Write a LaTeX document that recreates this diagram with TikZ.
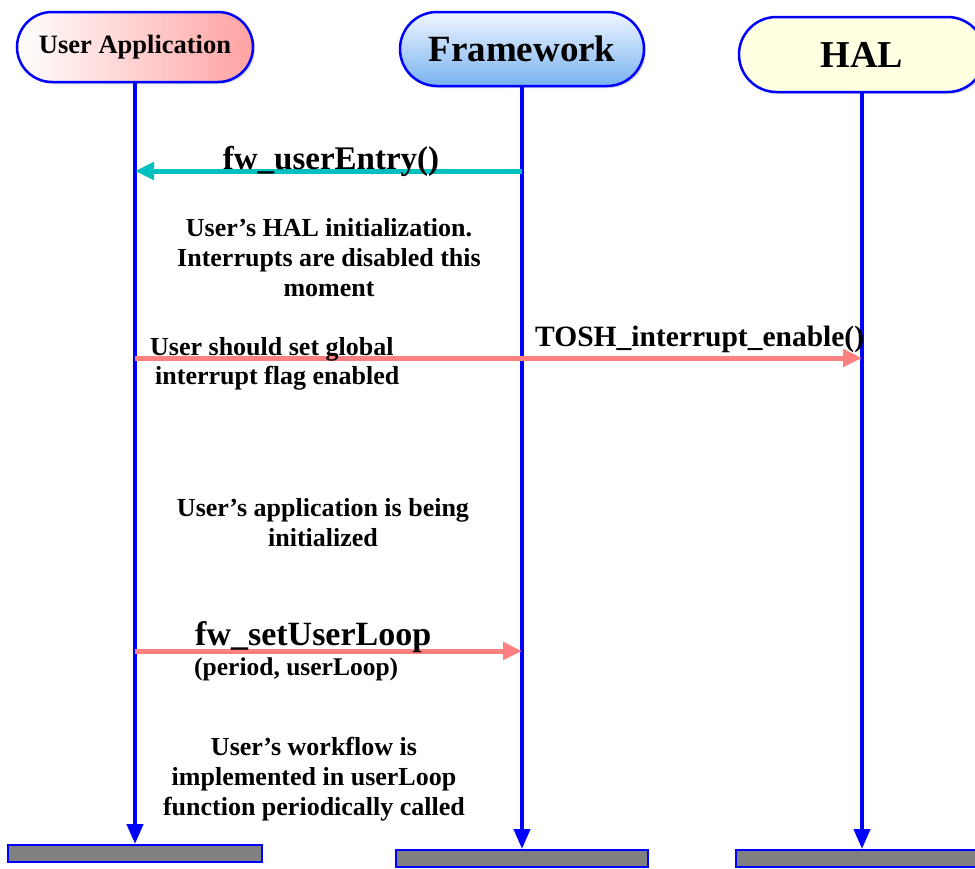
\documentclass[tikz,border=0pt]{standalone}
\usepackage{fontspec}
\setmainfont{Liberation Serif}
\usetikzlibrary{arrows.meta,shadows}
\definecolor{lifeblue}{RGB}{0,0,255}
\definecolor{callcyan}{RGB}{0,192,192}
\definecolor{callred}{RGB}{255,128,128}
\definecolor{halyellow}{RGB}{255,255,226}
\definecolor{fwtop}{RGB}{240,246,255}
\definecolor{fwbot}{RGB}{120,178,240}
\definecolor{uapink}{RGB}{255,162,162}
\definecolor{bargray}{RGB}{128,128,128}

\begin{document}
\begin{tikzpicture}[x=1pt,y=-1pt,
  actor/.style={draw=lifeblue,line width=2.5pt,inner sep=0pt,
    drop shadow={shadow xshift=2pt,shadow yshift=-2pt,fill=black!30}},
  endbar/.style={draw=lifeblue,line width=2pt,fill=bargray,inner sep=0pt},
  lifeline/.style={lifeblue,line width=4pt,-{Triangle[width=16pt,length=20pt]}},
  call/.style={line width=5pt,-{Triangle[width=17pt,length=19pt]}},
  note/.style={font=\bfseries\fontsize{26}{30}\selectfont,align=center,inner sep=0pt},
  callname/.style={font=\bfseries\fontsize{33}{36}\selectfont,inner sep=0pt}
]
\useasboundingbox (0,0) rectangle (975,868);

% participants
\node[actor, minimum width=236pt, minimum height=70pt, rounded corners=35pt,
      left color=white, right color=uapink,
      font=\bfseries\fontsize{26.5}{30}\selectfont] (ua) at (135,47) {User Application};
\node[actor, minimum width=244pt, minimum height=74pt, rounded corners=37pt,
      top color=fwtop, bottom color=fwbot,
      font=\bfseries\fontsize{37}{40}\selectfont] (fw) at (522,49) {Framework};
\node[actor, minimum width=246pt, minimum height=75pt, rounded corners=37.5pt,
      fill=halyellow,
      font=\bfseries\fontsize{38}{42}\selectfont] (hal) at (862,54.5) {HAL};

% end-of-life bars
\node[endbar, minimum width=254pt, minimum height=17pt] (uabar) at (135,853.5) {};
\node[endbar, minimum width=252pt, minimum height=17pt] (fwbar) at (522,858.5) {};
\node[endbar, minimum width=252pt, minimum height=17pt] (halbar) at (862,858.5) {};

% lifelines
\draw[lifeline] (ua.south) -- (uabar.north);
\draw[lifeline] (fw.south) -- (fwbar.north);
\draw[lifeline] (hal.south) -- (halbar.north);

% message anchor points on the lifelines
\coordinate (fw-entry) at (fw.south |- 0,171);
\coordinate (ua-entry) at (ua.south |- 0,171);
\coordinate (ua-irq) at (ua.south |- 0,358);
\coordinate (hal-irq) at (hal.south |- 0,358);
\coordinate (ua-loop) at (ua.south |- 0,651);
\coordinate (fw-loop) at (fw.south |- 0,651);

% messages
\draw[call,callcyan] (fw-entry) -- (ua-entry);
\draw[call,callred] (ua-irq) -- (hal-irq);
\draw[call,callred] (ua-loop) -- (fw-loop);

% message labels
\node[callname, anchor=base] (lentry) at (331,169) {fw\_userEntry()};
\node[callname, font=\bfseries\fontsize{29.5}{34}\selectfont, anchor=base west] (lirq) at (535,346) {TOSH\_interrupt\_enable()};
\node[note, anchor=base west, align=left] (lflag1) at (150,355) {User should set global};
\node[note, anchor=base west, align=left] (lflag2) at (155,384) {interrupt flag enabled};
\node[callname, font=\bfseries\fontsize{34}{36}\selectfont, anchor=base west] (lloop) at (195,645) {fw\_setUserLoop};
\node[note, font=\bfseries\fontsize{25.5}{28}\selectfont, anchor=base west] (lloopargs) at (194,675) {(period, userLoop)};

% notes
\node[note] (nhal) at (329,258) {User’s HAL initialization.\\Interrupts are disabled this\\moment};
\node[note] (napp) at (323,523) {User’s application is being\\initialized};
\node[note] (nwork) at (314,779) {User’s workflow is\\implemented in userLoop\\function periodically called};
\end{tikzpicture}
\end{document}
